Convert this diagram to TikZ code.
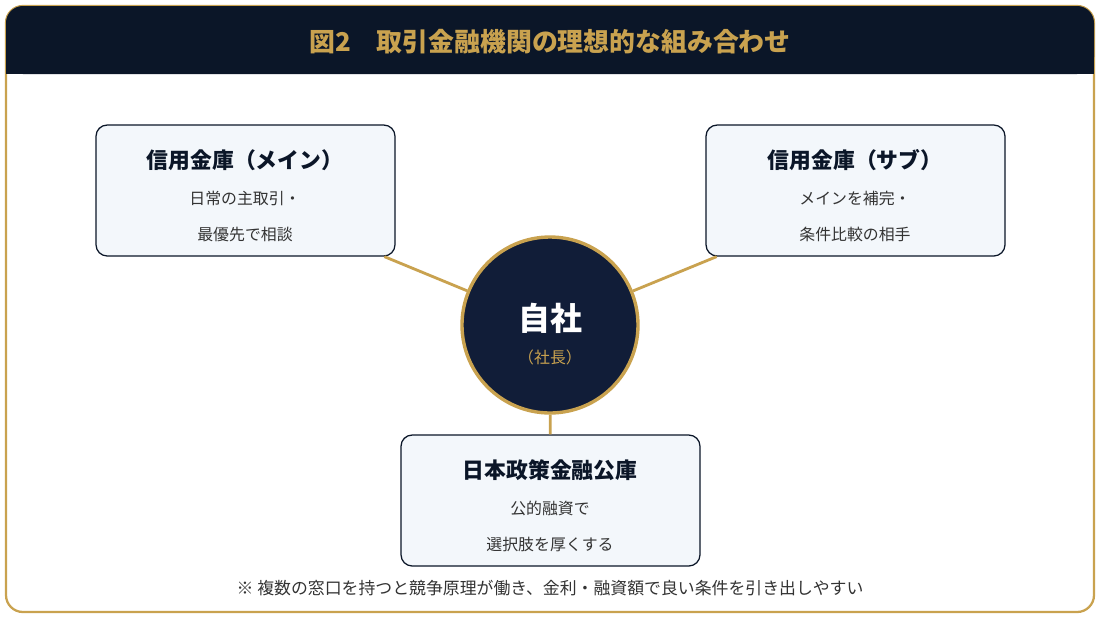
\documentclass[tikz,border=0pt]{standalone}
\usepackage{fontspec}
\setmainfont{Noto Sans CJK JP}
\usetikzlibrary{positioning}
\definecolor{navy}{HTML}{0B1628}
\definecolor{disc}{HTML}{111D38}
\definecolor{gold}{HTML}{C9A24F}
\definecolor{pale}{HTML}{F3F7FB}
\definecolor{ink}{HTML}{333333}
\begin{document}
\begin{tikzpicture}[x=0.025cm,y=-0.025cm,
  bank/.style={draw=navy,line width=0.9pt,fill=pale,rounded corners=8pt,
    minimum width=299*0.025cm,minimum height=131*0.025cm},
  head/.style={font=\bfseries\fontsize{15.5}{18}\selectfont,text=navy},
  note/.style={font=\fontsize{11.3}{14}\selectfont,text=ink},
  link/.style={draw=gold,line width=2pt}]
  \useasboundingbox (0,0) rectangle (1100,620);
  % frame and title bar
  \draw[gold,line width=1.6pt,fill=white,rounded corners=12pt] (6,6) rectangle (1094,612);
  \fill[navy,rounded corners=12pt] (6,6) rectangle (1094,74);
  \fill[navy] (6,40) rectangle (1094,74);
  \node[text=gold,font=\bfseries\fontsize{18.4}{22}\selectfont] (title) at (550,42) {図2　取引金融機関の理想的な組み合わせ};
  % banks
  \node[bank] (mein) at (245.5,190.5) {};
  \node[bank] (sub) at (855.5,190.5) {};
  \node[bank] (kouko) at (550.5,500.5) {};
  \node[circle,fill=disc,draw=gold,line width=2.4pt,minimum size=176*0.025cm] (self) at (550,325) {};
  \draw[link] ([xshift=-8]mein.south east) -- (self);
  \draw[link] ([xshift=8]sub.south west) -- (self);
  \draw[link] (self) -- (kouko);
  \node[head] (meinT) at (245,160) {信用金庫（メイン）};
  \node[note] (mein1) at (245,198) {日常の主取引・};
  \node[note] (mein2) at (245,234) {最優先で相談};
  \node[head] (subT) at (855,160) {信用金庫（サブ）};
  \node[note] (sub1) at (855,198) {メインを補完・};
  \node[note] (sub2) at (855,234) {条件比較の相手};
  \node[head] (koukoT) at (550,470) {日本政策金融公庫};
  \node[note] (kouko1) at (550,508) {公的融資で};
  \node[note] (kouko2) at (550,544) {選択肢を厚くする};
  \node[text=white,font=\bfseries\fontsize{22.7}{26}\selectfont] (selfT) at (550,318) {自社};
  \node[text=gold,font=\fontsize{11.3}{14}\selectfont] (selfS) at (550,357) {（社長）};
  % footnote
  \node[text=ink,font=\fontsize{12}{14}\selectfont] (foot) at (550,588) {※ 複数の窓口を持つと競争原理が働き、金利・融資額で良い条件を引き出しやすい};
\end{tikzpicture}
\end{document}
